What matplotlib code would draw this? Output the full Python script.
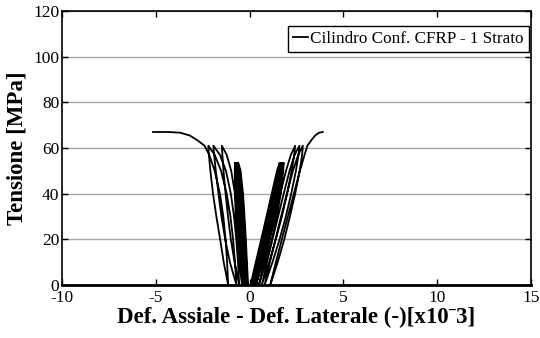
import matplotlib
matplotlib.use('Agg')
import matplotlib.pyplot as plt

plt.rcParams['font.family'] = ['Liberation Serif', 'DejaVu Serif']
plt.rcParams['axes.unicode_minus'] = False

# stress levels (MPa) at which strains were read for each group of cycles
stress_a = [0, 10, 20, 30, 40, 50, 53.5]
stress_b = [0, 10, 20, 30, 40, 50, 57, 61]

# lateral strain [x10^-3], cycles up to ~53.5 MPa (loading / unloading)
lat_a_up = [
    [-0.08, -0.14, -0.20, -0.27, -0.35, -0.48, -0.60],
    [-0.12, -0.18, -0.24, -0.31, -0.39, -0.52, -0.63],
    [-0.16, -0.22, -0.28, -0.35, -0.43, -0.56, -0.66],
    [-0.20, -0.26, -0.32, -0.39, -0.47, -0.59, -0.69],
    [-0.24, -0.30, -0.36, -0.43, -0.51, -0.62, -0.72],
    [-0.28, -0.34, -0.40, -0.47, -0.55, -0.66, -0.75],
    [-0.32, -0.38, -0.44, -0.51, -0.59, -0.70, -0.78],
]
lat_a_dn = [
    [-0.12, -0.26, -0.37, -0.46, -0.53, -0.59, -0.60],
    [-0.16, -0.30, -0.41, -0.50, -0.57, -0.62, -0.63],
    [-0.20, -0.34, -0.45, -0.54, -0.60, -0.65, -0.66],
    [-0.24, -0.38, -0.49, -0.58, -0.64, -0.68, -0.69],
    [-0.28, -0.42, -0.53, -0.61, -0.67, -0.71, -0.72],
    [-0.32, -0.46, -0.57, -0.65, -0.71, -0.74, -0.75],
    [-0.40, -0.56, -0.67, -0.74, -0.78, -0.79, -0.78],
]
# axial strain [x10^-3], cycles up to ~53.5 MPa
ax_a_up = [
    [0.05, 0.33, 0.62, 0.90, 1.18, 1.46, 1.60],
    [0.10, 0.38, 0.67, 0.95, 1.23, 1.51, 1.64],
    [0.15, 0.43, 0.72, 1.00, 1.28, 1.55, 1.68],
    [0.20, 0.48, 0.77, 1.05, 1.33, 1.60, 1.72],
    [0.25, 0.53, 0.82, 1.10, 1.38, 1.64, 1.76],
    [0.30, 0.58, 0.87, 1.15, 1.43, 1.68, 1.79],
    [0.35, 0.63, 0.92, 1.20, 1.47, 1.72, 1.82],
]
ax_a_dn = [
    [0.10, 0.45, 0.80, 1.10, 1.35, 1.55, 1.60],
    [0.15, 0.50, 0.85, 1.15, 1.40, 1.59, 1.64],
    [0.20, 0.55, 0.90, 1.20, 1.45, 1.63, 1.68],
    [0.25, 0.60, 0.95, 1.25, 1.50, 1.67, 1.72],
    [0.30, 0.65, 1.00, 1.30, 1.55, 1.71, 1.76],
    [0.35, 0.70, 1.05, 1.35, 1.59, 1.75, 1.79],
    [0.50, 0.85, 1.18, 1.45, 1.66, 1.79, 1.82],
]

# cycles up to ~61 MPa
lat_b_up = [
    [-0.40, -0.46, -0.54, -0.64, -0.78, -0.98, -1.22, -1.48],
    [-0.55, -0.62, -0.71, -0.83, -1.00, -1.26, -1.58, -1.93],
    [-0.70, -0.78, -0.88, -1.02, -1.22, -1.52, -1.86, -2.20],
]
lat_b_dn = [
    [-0.55, -0.80, -1.00, -1.15, -1.28, -1.39, -1.45, -1.48],
    [-0.70, -1.05, -1.30, -1.50, -1.66, -1.80, -1.89, -1.93],
    [-1.14, -1.38, -1.57, -1.77, -1.95, -2.09, -2.17, -2.20],
]
ax_b_up = [
    [0.50, 0.78, 1.06, 1.35, 1.64, 1.94, 2.20, 2.43],
    [0.65, 0.93, 1.22, 1.52, 1.82, 2.13, 2.40, 2.66],
    [0.80, 1.08, 1.38, 1.68, 1.99, 2.31, 2.59, 2.84],
]
ax_b_dn = [
    [0.65, 1.05, 1.40, 1.72, 2.00, 2.24, 2.38, 2.43],
    [0.80, 1.22, 1.60, 1.93, 2.22, 2.47, 2.61, 2.66],
    [1.10, 1.50, 1.85, 2.15, 2.43, 2.67, 2.80, 2.84],
]

# final loading branch up to failure
stress_fin = [0, 10, 20, 30, 40, 50, 57, 61, 63.5, 65.5, 66.7, 67, 67]
lat_fin = [-1.14, -1.20, -1.28, -1.40, -1.58, -1.86, -2.15, -2.40, -2.80,
           -3.20, -3.70, -4.30, -5.15]
ax_fin = [1.10, 1.40, 1.72, 2.04, 2.36, 2.68, 2.93, 3.08, 3.30, 3.50, 3.70,
          3.90, 3.90]


def loop_path(stress, ups, dns):
    xs, ys = [], []
    for up, dn in zip(ups, dns):
        xs += list(up) + list(dn)[::-1]
        ys += list(stress) + list(stress)[::-1]
    return xs, ys


fig = plt.figure(figsize=(5.4, 3.38), dpi=100)
ax = fig.add_axes([0.1148, 0.1568, 0.8685, 0.8107])

for a_up, a_dn, b_up, b_dn, fin in [
        (lat_a_up, lat_a_dn, lat_b_up, lat_b_dn, lat_fin),
        (ax_a_up, ax_a_dn, ax_b_up, ax_b_dn, ax_fin)]:
    xa, ya = loop_path(stress_a, a_up, a_dn)
    xb, yb = loop_path(stress_b, b_up, b_dn)
    line, = ax.plot(xa + xb + list(fin), ya + yb + list(stress_fin),
                    color='black', lw=1.3)

line.set_label('Cilindro Conf. CFRP - 1 Strato')

ax.set_xlim(-10, 15)
ax.set_ylim(0, 120)
ax.set_xticks([-10, -5, 0, 5, 10, 15])
ax.set_yticks([0, 20, 40, 60, 80, 100, 120])
ax.yaxis.grid(True, color='#a8a8a8', lw=1.0)
ax.set_axisbelow(True)
ax.tick_params(direction='in', top=True, right=True, length=4, width=1,
               labelsize=12.5)
ax.tick_params(axis='x', pad=3.5)
ax.tick_params(axis='y', pad=2)
for s in ax.spines.values():
    s.set_linewidth(1.2)
ax.spines['bottom'].set_linewidth(2.0)

ax.set_xlabel('Def. Assiale - Def. Laterale (-)[x10ˉ3]', fontsize=16.5,
              fontweight='bold', labelpad=1)
ax.set_ylabel('Tensione [MPa]', fontsize=16.5, fontweight='bold', labelpad=4)

leg = ax.legend(loc='upper right', bbox_to_anchor=(0.995, 0.945),
                borderaxespad=0, fontsize=12.3, handlelength=0.9,
                handletextpad=0.1, borderpad=0.3, fancybox=False,
                framealpha=1)
leg.get_frame().set_edgecolor('black')
leg.get_frame().set_linewidth(1.0)

fig.savefig('out.png', dpi=100, facecolor='white')
